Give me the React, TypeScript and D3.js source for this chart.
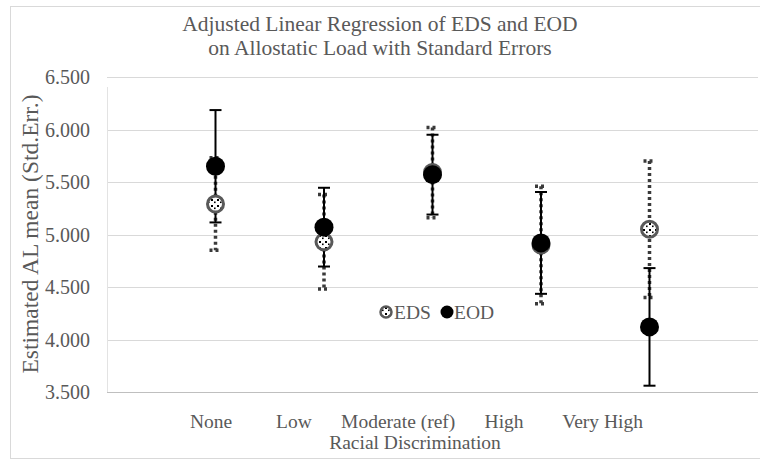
import React from "react";
import { scaleLinear, range, format } from "d3";

// categories on a numeric x axis (Excel scatter style, 0..6)
const categories = ["None", "Low", "Moderate (ref)", "High", "Very High"];
// the category row in the source is one text box spaced with blanks
const categoryGaps = [9, 6, 6, 8];
const edsMean = [5.29, 4.93, 5.59, 4.9, 5.05];
const edsErr = [0.44, 0.45, 0.43, 0.56, 0.65];
const eodMean = [5.65, 5.07, 5.57, 4.92, 4.12];
const eodErr = [0.535, 0.375, 0.38, 0.485, 0.56];
const yTicks = range(3.5, 6.51, 0.5);

const W = 760;
const H = 460;
const FONT = "'Liberation Serif', 'Times New Roman', serif";
const GRAY = "#595959";

const App = () => {
  const x = scaleLinear().domain([0, 6]).range([107, 758]);
  const y = scaleLinear().domain([3.5, 6.5]).range([392, 77]);
  const fmt = format(".3f");
  const cap = 6;
  const categoryRow = categories
    .map((c, i) => c + (i < categoryGaps.length ? " ".repeat(categoryGaps[i]) : ""))
    .join("");

  return (
    <svg
      width={W}
      height={H}
      style={{ position: "absolute", left: 0, top: 0, background: "#fff" }}
      fontFamily={FONT}
    >
      <defs>
        <pattern id="dots" width="6" height="6" patternUnits="userSpaceOnUse">
          <rect width="6" height="6" fill="#fff" />
          <rect x="1" y="1" width="2" height="2" fill="#000" />
          <rect x="4" y="3.5" width="1.6" height="1.6" fill="#000" />
        </pattern>
      </defs>
      {/* chart border */}
      <rect x={10.5} y={6.5} width={760} height={452} fill="none" stroke="#d9d9d9" />

      {/* title */}
      <text x={380} y={31} textAnchor="middle" fontSize={21.5} fill={GRAY}>
        Adjusted Linear Regression of EDS and EOD
      </text>
      <text x={380} y={55} textAnchor="middle" fontSize={21.5} fill={GRAY}>
        on Allostatic Load with Standard Errors
      </text>

      {/* gridlines + y ticks */}
      {yTicks.map((t) => (
        <g key={t}>
          <line
            x1={107}
            x2={758}
            y1={Math.round(y(t)) + 0.5}
            y2={Math.round(y(t)) + 0.5}
            stroke={t === 3.5 ? "#bfbfbf" : "#d9d9d9"}
            strokeWidth={1.2}
          />
          <text x={90} y={y(t) + 7} textAnchor="end" fontSize={20} fill={GRAY}>
            {fmt(t)}
          </text>
        </g>
      ))}
      <line x1={107.5} x2={107.5} y1={87} y2={392} stroke="#e3e3e3" />

      {/* y axis title */}
      <text
        transform={`translate(38,${234}) rotate(-90)`}
        textAnchor="middle"
        fontSize={23.5}
        fill={GRAY}
      >
        Estimated AL mean (Std.Err.)
      </text>

      {/* x labels */}
      <text x={190} y={428} fontSize={19.5} fill={GRAY} style={{ whiteSpace: "pre" }}>
        {categoryRow}
      </text>
      <text x={415} y={449} textAnchor="middle" fontSize={19.5} fill={GRAY}>
        Racial Discrimination
      </text>

      {/* EDS error bars (dotted) */}
      {edsMean.map((m, i) => {
        const cx = x(i + 1);
        return (
          <g key={"edsE" + i} stroke="#3a3a3a" strokeWidth={3.5} strokeDasharray="3 3">
            <line x1={cx} x2={cx} y1={y(m + edsErr[i])} y2={y(m - edsErr[i])} />
            <line x1={cx - cap} x2={cx + cap} y1={y(m + edsErr[i])} y2={y(m + edsErr[i])} />
            <line x1={cx - cap} x2={cx + cap} y1={y(m - edsErr[i])} y2={y(m - edsErr[i])} />
          </g>
        );
      })}
      {/* EOD error bars (solid) */}
      {eodMean.map((m, i) => {
        const cx = x(i + 1);
        return (
          <g key={"eodE" + i} stroke="#000" strokeWidth={2}>
            <line x1={cx} x2={cx} y1={y(m + eodErr[i])} y2={y(m - eodErr[i])} />
            <line x1={cx - cap} x2={cx + cap} y1={y(m + eodErr[i])} y2={y(m + eodErr[i])} />
            <line x1={cx - cap} x2={cx + cap} y1={y(m - eodErr[i])} y2={y(m - eodErr[i])} />
          </g>
        );
      })}
      {/* markers */}
      {edsMean.map((m, i) => (
        <circle
          key={"eds" + i}
          cx={x(i + 1)}
          cy={y(m)}
          r={8}
          fill="url(#dots)"
          stroke="#595959"
          strokeWidth={3}
        />
      ))}
      {eodMean.map((m, i) => (
        <circle key={"eod" + i} cx={x(i + 1)} cy={y(m)} r={9.5} fill="#000" />
      ))}

      {/* legend */}
      <circle cx={386} cy={312} r={5.5} fill="url(#dots)" stroke="#595959" strokeWidth={2.5} />
      <text x={394} y={319} fontSize={19.5} fill={GRAY}>
        EDS
      </text>
      <circle cx={447} cy={312} r={6.5} fill="#000" />
      <text x={454} y={319} fontSize={19.5} fill={GRAY}>
        EOD
      </text>
    </svg>
  );
};

export default App;
